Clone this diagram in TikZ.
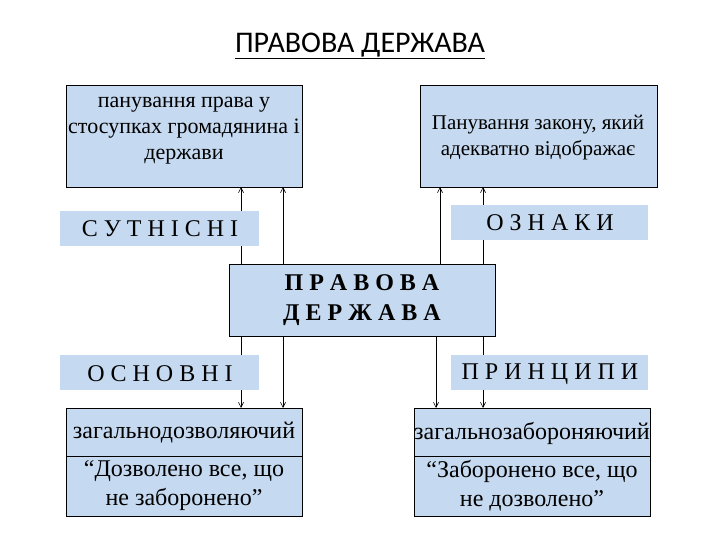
\documentclass[tikz,border=0pt]{standalone}
\usepackage{fontspec}
\usetikzlibrary{arrows.meta}
\setmainfont{Liberation Serif}
\newfontfamily\titlefont{Carlito}
\definecolor{boxblue}{RGB}{197,217,240}
\begin{document}
\begin{tikzpicture}[x=1pt,y=-1pt,
  box/.style={draw=black,fill=boxblue,line width=0.8pt},
  lbl/.style={fill=boxblue,draw=none},
  arr/.style={-{Straight Barb[length=5pt,width=5pt]},line width=0.6pt}]
\useasboundingbox (0,0) rectangle (720,540);
\node[font=\titlefont\fontsize{30}{34}\selectfont] (title) at (360,46) {\underline{ПРАВОВА ДЕРЖАВА}};
% boxes
\draw[box] (66,85) rectangle (302,187);
\node[align=center,font=\fontsize{22}{26}\selectfont] (tl) at (184,131) {панування права у\\стосупках громадянина і\\держави};
\draw[box] (420,85) rectangle (657,187);
\node[align=center,font=\fontsize{21}{26}\selectfont] (tr) at (538,138) {Панування закону, який\\адекватно відображає};
\draw[box] (229,264) rectangle (495,336);
\node[align=center,font=\bfseries\fontsize{24}{30}\selectfont] (c) at (362,300) {П Р А В О В А\\Д Е Р Ж А В А};
\draw[box] (66,408) rectangle (302,516);
\draw[line width=0.8pt] (66,456) -- (302,456);
\node[font=\fontsize{24}{28}\selectfont] (bl1) at (184,433) {загальнодозволяючий};
\node[align=center,font=\fontsize{24}{29}\selectfont] (bl2) at (184,486) {“Дозволено все, що\\не заборонено”};
\draw[box] (414,408) rectangle (650,516);
\draw[line width=0.8pt] (414,456) -- (650,456);
\node[font=\fontsize{24}{28}\selectfont] (br1) at (532,433) {загальнозабороняючий};
\node[align=center,font=\fontsize{24}{29}\selectfont] (br2) at (532,486) {“Заборонено все, що\\не дозволено”};
% arrows
\coordinate (a1) at (241,264); \coordinate (a1e) at (241,187);
\coordinate (a2) at (283,264); \coordinate (a2e) at (283,187);
\coordinate (a3) at (440,264); \coordinate (a3e) at (440,187);
\coordinate (a4) at (483,264); \coordinate (a4e) at (483,187);
\coordinate (b1) at (241,336); \coordinate (b1e) at (241,408);
\coordinate (b2) at (283,336); \coordinate (b2e) at (283,408);
\coordinate (b3) at (436,336); \coordinate (b3e) at (436,408);
\coordinate (b4) at (483,336); \coordinate (b4e) at (483,408);
\foreach \s in {a1,a2,a3,a4,b1,b2,b3,b4} {\draw[arr] (\s) -- (\s e);}
% labels
\fill[lbl] (60,211) rectangle (259,246);
\node[font=\fontsize{24}{28}\selectfont] (s1) at (160,229) {С У Т Н І С Н І};
\fill[lbl] (451,205) rectangle (648,240);
\node[font=\fontsize{24}{28}\selectfont] (s2) at (550,223) {О З Н А К И};
\fill[lbl] (60,355) rectangle (259,390);
\node[font=\fontsize{24}{28}\selectfont] (s3) at (160,374) {О С Н О В Н І};
\fill[lbl] (451,355) rectangle (648,390);
\node[font=\fontsize{24}{28}\selectfont] (s4) at (550,374) {П Р И Н Ц И П И};
\end{tikzpicture}
\end{document}
